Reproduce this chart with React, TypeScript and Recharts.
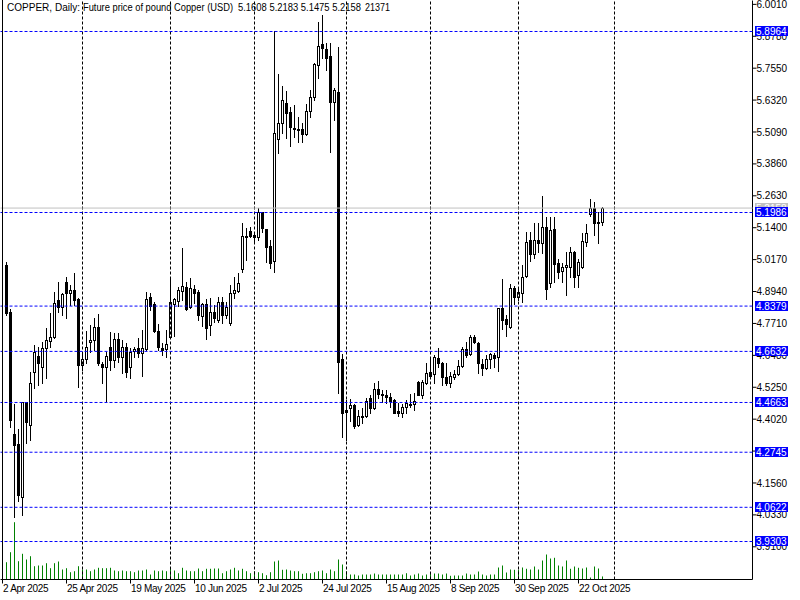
import { Bar, ComposedChart, ReferenceLine, XAxis, YAxis } from "recharts";

// trading days shown on the chart (2 Apr has no visible candle)
const aprDays = [2, 3, 4, 7, 8, 9, 10, 11, 14, 15, 16, 17, 21, 22, 23, 24, 25, 28, 29, 30];
const mayDays = [1, 2, 5, 6, 7, 8, 9, 12, 13, 14, 15, 16, 19, 20, 21, 22, 23, 26, 27, 28, 29, 30];
const junDays = [2, 3, 4, 5, 6, 9, 10, 11, 12, 13, 16, 17, 18, 19, 20, 23, 24, 25, 26, 27, 30];
const julDays = [1, 2, 3, 4, 7, 8, 9, 10, 11, 14, 15, 16, 17, 18, 21, 22, 23, 24, 25, 28, 29, 30, 31];
const augDays = [1, 4, 5, 6, 7, 8, 11, 12, 13, 14, 15, 18, 19, 20, 21, 22, 25, 26, 27, 28, 29];
const sepDays = [1, 2, 3, 4, 5, 8, 9, 10, 11, 12, 15, 16, 17, 18, 19, 22, 23, 24, 25, 26, 29, 30];
const octDays = [1, 2, 3, 6, 7, 8, 9, 10, 13, 14, 15, 16, 17, 20, 21, 22, 23, 24, 27, 28, 29, 30];

const open = [
  4.994, 4.813, 4.343, 4.304, 4.100, 4.466, 4.378, 4.582, 4.644, 4.601,
  4.674, 4.701, 4.717, 4.859, 4.832, 4.929, 4.886, 4.898, 4.863, 4.609,
  4.632, 4.698, 4.705, 4.755, 4.613, 4.601, 4.678, 4.628, 4.709, 4.640,
  4.678, 4.601, 4.663, 4.674, 4.655, 4.671, 4.871, 4.844, 4.740, 4.674,
  4.671, 4.717, 4.844, 4.856, 4.894, 4.910, 4.832, 4.902, 4.890, 4.798,
  4.844, 4.763, 4.813, 4.782, 4.852, 4.802, 4.771, 4.886, 4.894, 4.979,
  5.102, 5.125, 5.110, 5.102, 5.199, 5.133, 5.068, 5.010, 5.480, 5.542,
  5.619, 5.584, 5.522, 5.515, 5.518, 5.499, 5.588, 5.642, 5.765, 5.846,
  5.827, 5.800, 5.623, 5.661, 4.632, 4.435, 4.443, 4.455, 4.378, 4.408,
  4.412, 4.482, 4.443, 4.516, 4.497, 4.493, 4.485, 4.474, 4.431, 4.424,
  4.447, 4.455, 4.458, 4.543, 4.493, 4.539, 4.582, 4.574, 4.636, 4.617,
  4.563, 4.539, 4.563, 4.574, 4.605, 4.671, 4.651, 4.717, 4.694, 4.613,
  4.597, 4.632, 4.647, 4.640, 4.829, 4.786, 4.756, 4.906, 4.871, 4.886,
  4.952, 5.091, 5.037, 5.091, 5.079, 5.141, 4.925, 5.133, 5.002, 4.971,
  4.987, 4.987, 5.044, 4.956, 4.987, 5.083, 5.191, 5.214, 5.156, 5.1608,
];
const high = [
  5.006, 4.825, 4.459, 4.362, 4.468, 4.468, 4.582, 4.686, 4.678, 4.698,
  4.752, 4.809, 4.890, 4.929, 4.886, 4.948, 4.917, 4.964, 4.866, 4.655,
  4.740, 4.763, 4.790, 4.806, 4.620, 4.659, 4.736, 4.732, 4.732, 4.705,
  4.694, 4.674, 4.678, 4.713, 4.744, 4.890, 4.886, 4.852, 4.767, 4.694,
  4.744, 4.948, 4.867, 4.910, 5.060, 4.929, 4.944, 4.917, 4.898, 4.848,
  4.863, 4.867, 4.840, 4.871, 4.871, 4.852, 4.917, 4.948, 4.964, 5.156,
  5.137, 5.141, 5.122, 5.214, 5.200, 5.134, 5.091, 5.896, 5.731, 5.684,
  5.665, 5.603, 5.611, 5.565, 5.542, 5.615, 5.669, 5.773, 5.931, 5.958,
  5.850, 5.850, 5.677, 5.835, 4.651, 4.474, 4.478, 4.457, 4.435, 4.443,
  4.482, 4.493, 4.539, 4.547, 4.512, 4.512, 4.501, 4.476, 4.462, 4.458,
  4.474, 4.497, 4.501, 4.547, 4.551, 4.617, 4.636, 4.647, 4.674, 4.620,
  4.617, 4.582, 4.590, 4.628, 4.678, 4.698, 4.725, 4.725, 4.698, 4.632,
  4.647, 4.655, 4.655, 4.829, 4.940, 4.802, 4.921, 4.913, 4.910, 4.994,
  5.122, 5.122, 5.156, 5.156, 5.260, 5.179, 5.179, 5.179, 5.017, 5.002,
  5.044, 5.064, 5.048, 5.017, 5.118, 5.152, 5.249, 5.237, 5.199, 5.2183,
];
const low = [
  4.802, 4.370, 4.023, 4.085, 4.031, 4.308, 4.320, 4.520, 4.532, 4.539,
  4.559, 4.678, 4.713, 4.813, 4.802, 4.790, 4.840, 4.840, 4.524, 4.590,
  4.617, 4.659, 4.667, 4.609, 4.539, 4.470, 4.590, 4.601, 4.620, 4.578,
  4.563, 4.559, 4.640, 4.640, 4.566, 4.667, 4.821, 4.736, 4.667, 4.647,
  4.640, 4.713, 4.721, 4.836, 4.859, 4.821, 4.829, 4.848, 4.782, 4.759,
  4.709, 4.725, 4.775, 4.775, 4.771, 4.790, 4.763, 4.867, 4.890, 4.967,
  5.014, 5.102, 5.083, 5.091, 5.122, 5.006, 4.983, 4.967, 5.426, 5.503,
  5.484, 5.453, 5.488, 5.469, 5.469, 5.495, 5.565, 5.630, 5.715, 5.792,
  5.746, 5.430, 5.553, 4.501, 4.331, 4.320, 4.393, 4.366, 4.374, 4.385,
  4.408, 4.424, 4.439, 4.482, 4.466, 4.462, 4.447, 4.422, 4.412, 4.408,
  4.424, 4.447, 4.435, 4.493, 4.482, 4.536, 4.563, 4.539, 4.601, 4.532,
  4.532, 4.524, 4.555, 4.570, 4.601, 4.640, 4.647, 4.694, 4.578, 4.570,
  4.593, 4.597, 4.601, 4.586, 4.748, 4.721, 4.752, 4.844, 4.859, 4.852,
  4.948, 5.010, 5.021, 5.044, 5.041, 4.863, 4.910, 4.929, 4.944, 4.929,
  4.879, 4.948, 4.910, 4.910, 4.983, 5.067, 5.183, 5.110, 5.079, 5.1475,
];
const close = [
  4.809, 4.397, 4.300, 4.108, 4.466, 4.389, 4.539, 4.659, 4.617, 4.674,
  4.705, 4.717, 4.848, 4.832, 4.883, 4.886, 4.898, 4.859, 4.609, 4.632,
  4.678, 4.705, 4.755, 4.617, 4.601, 4.644, 4.628, 4.709, 4.640, 4.678,
  4.582, 4.659, 4.671, 4.655, 4.674, 4.863, 4.836, 4.740, 4.678, 4.667,
  4.690, 4.852, 4.863, 4.898, 4.913, 4.825, 4.906, 4.886, 4.802, 4.844,
  4.752, 4.813, 4.790, 4.852, 4.802, 4.832, 4.886, 4.898, 4.925, 5.106,
  5.106, 5.106, 5.102, 5.199, 5.137, 5.064, 5.002, 5.503, 5.542, 5.630,
  5.580, 5.526, 5.518, 5.518, 5.499, 5.588, 5.642, 5.769, 5.839, 5.831,
  5.792, 5.623, 5.669, 4.620, 4.424, 4.428, 4.455, 4.374, 4.412, 4.412,
  4.470, 4.443, 4.516, 4.497, 4.493, 4.485, 4.470, 4.424, 4.424, 4.447,
  4.462, 4.458, 4.470, 4.493, 4.543, 4.578, 4.566, 4.640, 4.617, 4.563,
  4.539, 4.566, 4.574, 4.605, 4.671, 4.647, 4.717, 4.698, 4.617, 4.597,
  4.632, 4.651, 4.636, 4.829, 4.782, 4.767, 4.906, 4.871, 4.890, 4.948,
  5.083, 5.037, 5.091, 5.079, 5.141, 4.902, 5.129, 4.998, 4.967, 4.987,
  4.994, 5.044, 4.948, 5.006, 5.087, 5.118, 5.214, 5.156, 5.160, 5.2158,
];
// tick volume, thousands
const volume = [
  121, 191, 401, 128, 180, 140, 163, 93, 98, 98,
  114, 79, 114, 126, 70, 79, 51, 58, 93, 70,
  70, 58, 70, 82, 79, 79, 82, 63, 58, 63,
  58, 58, 51, 63, 63, 70, 35, 63, 58, 63,
  58, 86, 63, 44, 82, 63, 58, 58, 77, 58,
  75, 75, 77, 77, 44, 58, 70, 82, 63, 75,
  58, 44, 58, 51, 44, 30, 51, 126, 133, 68,
  70, 63, 58, 58, 40, 44, 44, 51, 58, 63,
  44, 70, 58, 140, 105, 58, 35, 35, 28, 35,
  35, 35, 42, 35, 35, 35, 35, 35, 35, 35,
  44, 28, 35, 42, 28, 35, 44, 42, 42, 35,
  42, 26, 28, 28, 28, 42, 35, 35, 56, 35,
  28, 35, 35, 84, 98, 49, 70, 68, 68, 84,
  75, 70, 91, 70, 133, 175, 147, 152, 98, 91,
  133, 75, 91, 82, 77, 84, 14, 91, 77, 21.371,
];

const priceTicks = [
  6.001, 5.878, 5.755, 5.632, 5.509, 5.386, 5.263, 5.14, 5.017,
  4.894, 4.771, 4.648, 4.525, 4.402, 4.279, 4.156, 4.033, 3.91,
];
const levels = [5.8964, 5.1986, 4.8379, 4.6632, 4.4663, 4.2745, 4.0622, 3.9303];
const bid = 5.2158;
const labelDates = ["2 Apr", "25 Apr", "19 May", "10 Jun", "2 Jul", "24 Jul", "15 Aug", "8 Sep", "30 Sep", "22 Oct"];
const monthLines = ["1 May", "2 Jun", "1 Jul", "1 Aug", "1 Sep", "1 Oct", "+3"];

const months: [string, number[]][] = [
  ["Apr", aprDays], ["May", mayDays], ["Jun", junDays], ["Jul", julDays],
  ["Aug", augDays], ["Sep", sepDays], ["Oct", octDays],
];
const dates = months.flatMap(([m, days]) => days.map((d) => `${d} ${m}`));

const rows: any[] = dates.map((d, k) =>
  k === 0
    ? { d }
    : { d, o: open[k - 1], h: high[k - 1], l: low[k - 1], c: close[k - 1], v: volume[k - 1] },
);
// empty space to the right of the last bar
for (let k = 1; k <= 37; k++) rows.push({ d: `+${k}` });

const font = "'Liberation Sans', Arial, sans-serif";

function Candle(props: any) {
  const { x, y, width, height, payload } = props;
  if (!payload || payload.o == null) return null;
  const { o, h, l, c } = payload;
  const top0 = Math.min(y, y + height);
  const hgt = Math.abs(height);
  const fx = Math.floor(x + width / 2);
  const span = h - l;
  const toY = (v: number) => (span > 0 ? top0 + ((h - v) / span) * hgt : top0);
  const top = Math.floor(toY(Math.max(o, c)));
  const bot = Math.floor(toY(Math.min(o, c)));
  const up = c >= o;
  let body;
  if (bot - top < 1) {
    body = <line x1={fx - 1} x2={fx + 2} y1={top + 0.5} y2={top + 0.5} stroke="#000" />;
  } else if (up) {
    body = <rect x={fx - 0.5} y={top + 0.5} width={2} height={bot - top} fill="#fff" stroke="#000" />;
  } else {
    body = <rect x={fx - 1} y={top} width={3} height={bot - top + 1} fill="#000" />;
  }
  return (
    <g>
      <line x1={fx + 0.5} x2={fx + 0.5} y1={Math.floor(top0)} y2={Math.floor(top0 + hgt) + 1} stroke="#000" />
      {body}
    </g>
  );
}

function VolLine(props: any) {
  const { x, y, width, height } = props;
  if (!height) return null;
  const fx = Math.floor(x + width / 2) + 0.5;
  return <line x1={fx} x2={fx} y1={y} y2={y + height} stroke="#008000" />;
}

function DateTick(props: any) {
  const { x, y, payload } = props;
  const px = Math.floor(x) + 0.5;
  return (
    <g>
      <line x1={px} x2={px} y1={y} y2={y + 4} stroke="#000" />
      <text x={px + 0.5} y={y + 12} fontSize={10} fontFamily={font} letterSpacing={-0.3} fill="#000">
        {payload.value} 2025
      </text>
    </g>
  );
}

const tag = (text: string, bg: string, fg: string) => (props: any) => {
  const vb = props.viewBox || {};
  const x = Math.floor(vb.x + vb.width) + 3;
  const y = Math.floor(vb.y);
  return (
    <g>
      <rect x={x} y={y - 5} width={33} height={10} fill={bg} />
      <text x={x + 1} y={y + 4} fontSize={10} fontFamily={font} fill={fg}>
        {text}
      </text>
    </g>
  );
};

export default function App() {
  return (
    <div style={{ position: "absolute", left: 0, top: 0, width: 800, height: 600, background: "#fff" }}>
      <ComposedChart
        width={800}
        height={600}
        data={rows}
        margin={{ top: 0.5, right: 0, bottom: 0, left: 0.5 }}
        barCategoryGap={0}
      >
        <XAxis
          xAxisId="main"
          dataKey="d"
          ticks={labelDates}
          interval={0}
          tick={DateTick}
          tickLine={false}
          tickSize={0}
          tickMargin={0}
          axisLine={{ stroke: "#000" }}
          height={20.5}
        />
        <XAxis xAxisId="vol" dataKey="d" hide />
        <YAxis
          yAxisId="p"
          orientation="right"
          type="number"
          domain={[3.7839, 6.0159]}
          allowDataOverflow
          ticks={priceTicks}
          interval={0}
          tickFormatter={(v: number) => v.toFixed(4)}
          width={47.5}
          tickSize={4}
          tickMargin={0}
          tick={{ fontSize: 10, fill: "#000", fontFamily: font }}
          axisLine={{ stroke: "#000" }}
          tickLine={{ stroke: "#000" }}
        />
        <YAxis yAxisId="vol" hide domain={[0, 4053]} />

        {monthLines.map((m) => (
          <ReferenceLine key={m} xAxisId="main" yAxisId="p" x={m} stroke="#000" strokeDasharray="3 2" />
        ))}

        <Bar xAxisId="vol" yAxisId="vol" dataKey="v" shape={VolLine} isAnimationActive={false} />
        <Bar
          xAxisId="main"
          yAxisId="p"
          dataKey={(r: any) => (r.o == null ? null : [r.l, r.h])}
          shape={Candle}
          isAnimationActive={false}
        />

        <ReferenceLine
          xAxisId="main"
          yAxisId="p"
          y={bid}
          stroke="#c0c0c0"
          zIndex={2100}
          label={tag(bid.toFixed(4), "#c0c0c0", "#fff")}
        />
        {levels.map((lv) => (
          <ReferenceLine
            key={lv}
            xAxisId="main"
            yAxisId="p"
            y={lv}
            stroke="#0000ff"
            strokeDasharray="3 2"
            zIndex={2200}
            label={tag(lv.toFixed(4), "#0000ff", "#fff")}
          />
        ))}
      </ComposedChart>
      <svg width={800} height={600} style={{ position: "absolute", left: 0, top: 0, pointerEvents: "none" }}>
        <line x1={2.5} x2={2.5} y1={0} y2={580} stroke="#000" />
        <g fontFamily={font} fontSize={10} fill="#000">
          <text x={7} y={11} textLength={73} lengthAdjust="spacingAndGlyphs">COPPER, Daily:</text>
          <text x={83} y={11} textLength={150} lengthAdjust="spacingAndGlyphs">Future price of pound Copper (USD)</text>
          <text x={238} y={11} textLength={123} lengthAdjust="spacingAndGlyphs">5.1608 5.2183 5.1475 5.2158</text>
          <text x={365} y={11} textLength={25} lengthAdjust="spacingAndGlyphs">21371</text>
        </g>
      </svg>
    </div>
  );
}
